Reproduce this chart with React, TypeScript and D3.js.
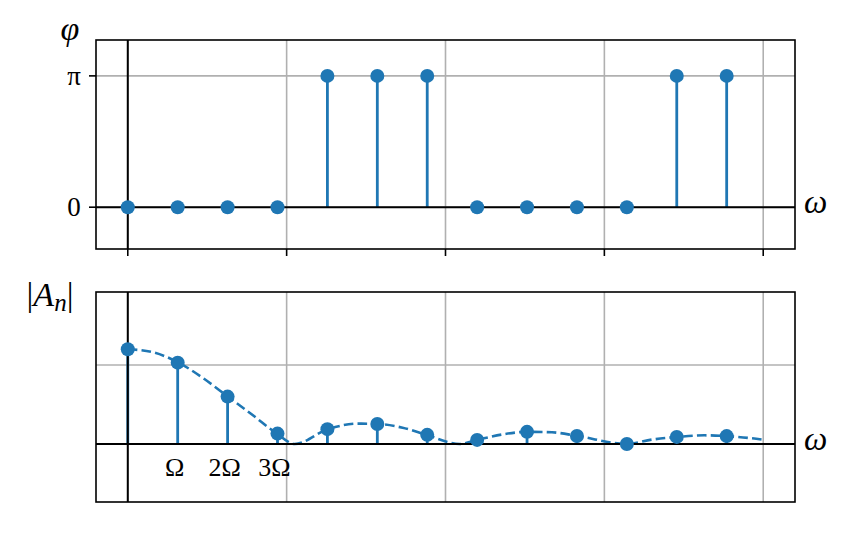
import { useRef, useEffect } from "react"
import * as d3 from "d3"

// harmonic index n, frequency = n * Omega (Omega = pi/10)
const harmonics = [0, 1, 2, 3, 4, 5, 6, 7, 8, 9, 10, 11, 12]
const omegaStep = Math.PI / 10

// phase spectrum (0 or pi)
const phase = [0, 0, 0, 0, Math.PI, Math.PI, Math.PI, 0, 0, 0, 0, Math.PI, Math.PI]

// amplitude spectrum |A_n|
const amplitude = [0.6, 0.515, 0.3, 0.066, 0.094, 0.127, 0.058, 0.026, 0.077, 0.051, 0.0, 0.045, 0.05]

// dashed envelope
const envOmega = [0, 0.16, 0.31, 0.47, 0.63, 0.79, 0.94, 1.05, 1.26, 1.45, 1.57, 1.73, 1.88, 2.09, 2.2, 2.36, 2.51, 2.67, 2.83, 3.14, 3.3, 3.46, 3.63, 3.77, 3.93, 4.0]
const envValue = [0.6, 0.58, 0.52, 0.42, 0.3, 0.18, 0.065, 0.0, 0.094, 0.129, 0.127, 0.103, 0.058, 0.0, 0.026, 0.061, 0.077, 0.074, 0.051, 0.0, 0.028, 0.045, 0.055, 0.05, 0.036, 0.027]

const xTicks = [0, 1, 2, 3, 4]
const omegaLabels = ["Ω", "2Ω", "3Ω"]

const BLUE = "#1f77b4"
const GRID = "#b0b0b0"
const SERIF = "'Liberation Serif', 'DejaVu Serif', serif"

const App = () => {
  const svgRef = useRef<SVGSVGElement>(null)

  useEffect(() => {
    const svg = d3.select(svgRef.current)
    svg.selectAll("*").remove()

    const left = 96
    const right = 795
    const x = d3.scaleLinear().domain([-0.2, 4.2]).range([left, right])

    const yTop = d3.scaleLinear().domain([-1, 4]).range([249, 40])
    const yBot = d3.scaleLinear().domain([-0.367, 0.962]).range([502, 292])

    const panel = (y, yGrid) => {
      const g = svg.append("g")
      const [y0, y1] = y.range()
      // grid
      g.selectAll("line.vg")
        .data(xTicks)
        .enter()
        .append("line")
        .attr("x1", (d) => x(d))
        .attr("x2", (d) => x(d))
        .attr("y1", y1)
        .attr("y2", y0)
        .attr("stroke", GRID)
        .attr("stroke-width", 1.6)
      g.selectAll("line.hg")
        .data(yGrid)
        .enter()
        .append("line")
        .attr("x1", left)
        .attr("x2", right)
        .attr("y1", (d) => y(d))
        .attr("y2", (d) => y(d))
        .attr("stroke", GRID)
        .attr("stroke-width", 1.6)
      return g
    }

    const stems = (g, y, values, envelope) => {
      g.selectAll("line.stem")
        .data(harmonics)
        .enter()
        .append("line")
        .attr("x1", (d) => x(d * omegaStep))
        .attr("x2", (d) => x(d * omegaStep))
        .attr("y1", y(0))
        .attr("y2", (d) => y(values[d]))
        .attr("stroke", BLUE)
        .attr("stroke-width", 2.8)

      if (envelope) {
        const line = d3
          .line()
          .x((d) => x(d[0]))
          .y((d) => y(d[1]))
          .curve(d3.curveMonotoneX)
        g.append("path")
          .attr("d", line(envOmega.map((w, i) => [w, envValue[i]])))
          .attr("fill", "none")
          .attr("stroke", BLUE)
          .attr("stroke-width", 2.6)
          .attr("stroke-dasharray", "9.6,4.2")
      }

      // zero axes
      g.append("line")
        .attr("x1", left)
        .attr("x2", right)
        .attr("y1", y(0))
        .attr("y2", y(0))
        .attr("stroke", "#000")
        .attr("stroke-width", 2)
      g.append("line")
        .attr("x1", x(0))
        .attr("x2", x(0))
        .attr("y1", y.range()[1])
        .attr("y2", y.range()[0])
        .attr("stroke", "#000")
        .attr("stroke-width", 2)

      g.selectAll("circle")
        .data(harmonics)
        .enter()
        .append("circle")
        .attr("cx", (d) => x(d * omegaStep))
        .attr("cy", (d) => y(values[d]))
        .attr("r", 7)
        .attr("fill", BLUE)

      // frame
      g.append("rect")
        .attr("x", left)
        .attr("y", y.range()[1])
        .attr("width", right - left)
        .attr("height", y.range()[0] - y.range()[1])
        .attr("fill", "none")
        .attr("stroke", "#000")
        .attr("stroke-width", 1.6)

      g.append("text")
        .attr("x", 804)
        .attr("y", y(0) + 6)
        .attr("font-family", SERIF)
        .attr("font-style", "italic")
        .attr("font-size", 33)
        .text("ω")
    }

    // top: phase
    const top = panel(yTop, [0, Math.PI])
    stems(top, yTop, phase, false)

    top.selectAll("line.xt")
      .data(xTicks)
      .enter()
      .append("line")
      .attr("x1", (d) => x(d))
      .attr("x2", (d) => x(d))
      .attr("y1", 249)
      .attr("y2", 256)
      .attr("stroke", "#000")
      .attr("stroke-width", 1.6)

    const yTickLabels = [
      { v: 0, t: "0" },
      { v: Math.PI, t: "π" },
    ]
    top.selectAll("line.yt")
      .data(yTickLabels)
      .enter()
      .append("line")
      .attr("x1", left - 7)
      .attr("x2", left)
      .attr("y1", (d) => yTop(d.v))
      .attr("y2", (d) => yTop(d.v))
      .attr("stroke", "#000")
      .attr("stroke-width", 1.6)
    top.selectAll("text.yl")
      .data(yTickLabels)
      .enter()
      .append("text")
      .attr("x", 74)
      .attr("y", (d) => yTop(d.v) + 9)
      .attr("text-anchor", "middle")
      .attr("font-family", SERIF)
      .attr("font-size", 27)
      .text((d) => d.t)

    top.append("text")
      .attr("x", 70)
      .attr("y", 40)
      .attr("text-anchor", "middle")
      .attr("font-family", SERIF)
      .attr("font-style", "italic")
      .attr("font-size", 34)
      .text("φ")

    // bottom: amplitude
    const bot = panel(yBot, [0, 0.5])
    stems(bot, yBot, amplitude, true)

    bot.selectAll("text.om")
      .data(omegaLabels)
      .enter()
      .append("text")
      .attr("x", (d, i) => x((i + 1) * omegaStep) - 3)
      .attr("y", 476)
      .attr("text-anchor", "middle")
      .attr("font-family", SERIF)
      .attr("font-size", 26)
      .text((d) => d)

    const lab = bot
      .append("text")
      .attr("x", 50)
      .attr("y", 306)
      .attr("text-anchor", "middle")
      .attr("font-family", SERIF)
      .attr("font-size", 34)
    lab.append("tspan").text("|")
    lab.append("tspan").attr("font-style", "italic").text("A")
    lab.append("tspan").attr("font-style", "italic").attr("font-size", 25).attr("dy", 5).text("n")
    lab.append("tspan").attr("dy", -5).text("|")
  }, [])

  return (
    <svg
      ref={svgRef}
      width={863}
      height={540}
      style={{ position: "absolute", left: 0, top: 0, background: "#fff" }}
    ></svg>
  )
}

export default App
